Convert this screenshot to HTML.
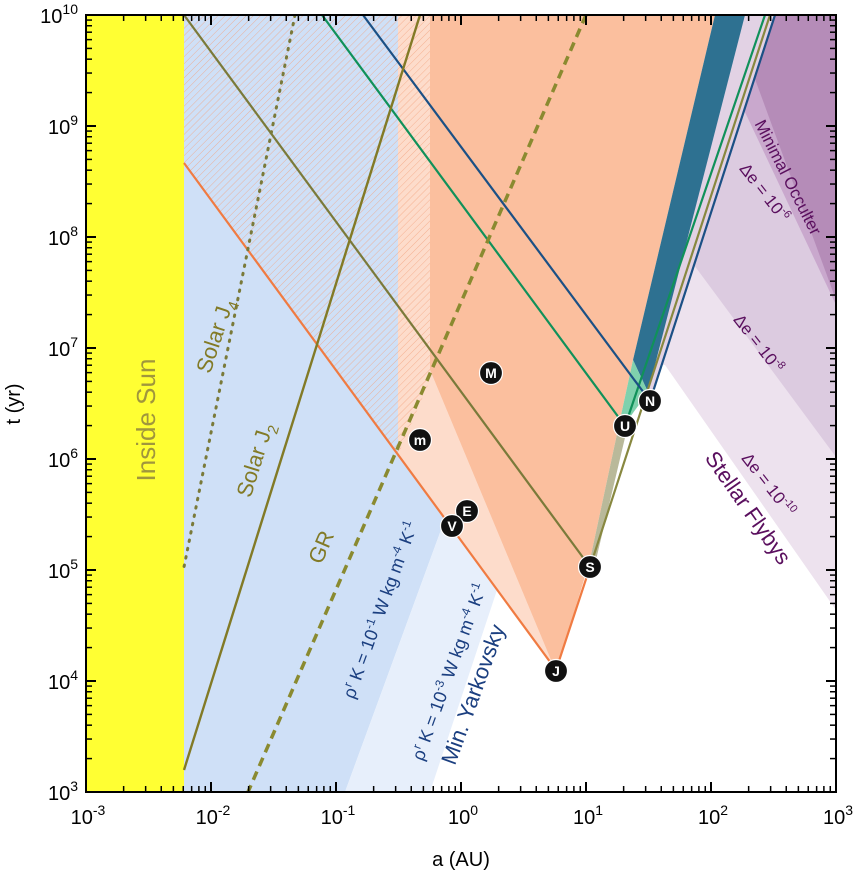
<!DOCTYPE html>
<html><head><meta charset="utf-8"><style>
body{margin:0;background:#fff}
svg{display:block;font-family:"Liberation Sans",sans-serif}
</style></head><body>
<svg id="s" width="856" height="877" viewBox="0 0 856 877" xmlns="http://www.w3.org/2000/svg">
<defs>
<pattern id="h" width="5" height="5" patternUnits="userSpaceOnUse" patternTransform="rotate(45)">
<line x1="0" y1="0" x2="0" y2="5" stroke="#f3a07a" stroke-width="0.9" opacity="0.8"/>
</pattern>
<clipPath id="c"><rect x="86" y="15" width="750" height="777"/></clipPath>
</defs>
<g clip-path="url(#c)">
<polygon points="775,15 836,15 836,610 665,365 661,365" fill="#ede2ee"/>
<polygon points="775,15 836,15 836,457 694,265" fill="#dccbe0"/>
<polygon points="775,15 836,15 836,305 744,110" fill="#c9a8cd"/>
<polygon points="760,15 836,15 836,300 748,60" fill="#b58cb8"/>
<polygon points="743,15 775,15 650,400 646,392" fill="#e2d2e4"/>
<rect x="86" y="15" width="98" height="777" fill="#ffff33"/>
<polygon points="184,15 398,15 398,455 445,519 345,792 184,792" fill="#cfe0f7"/>
<polygon points="445,519 497,590 430,792 345,792" fill="#e7effb"/>
<polygon points="398,15 430,15 430,370 556,672 398,455" fill="#fddccb"/>
<polygon points="184,15 430,15 430,380 398,455 184,163" fill="url(#h)"/>
<polygon points="430,15 715,15 633,360 620,420 590,560 556,672 430,370" fill="#fbbf9e"/>
<polygon points="715,15 745,15 648,392 633,360" fill="#2e7191"/>
<polygon points="633,360 648,392 628,420 620,420" fill="#7fd1ad"/>
<polygon points="620,420 628,425 596,560 590,560" fill="#b9b99a"/>
<line x1="184" y1="163" x2="556" y2="670" stroke="#f07b42" stroke-width="2.2"/>
<line x1="556" y1="670" x2="590" y2="567" stroke="#f07b42" stroke-width="2.2"/>
<line x1="184" y1="15" x2="590" y2="567" stroke="#7a7a3a" stroke-width="2.2"/>
<line x1="590" y1="567" x2="770" y2="15" stroke="#888840" stroke-width="2.2"/>
<line x1="322" y1="15" x2="625" y2="426" stroke="#10915a" stroke-width="2.2"/>
<line x1="625" y1="426" x2="765" y2="15" stroke="#10915a" stroke-width="2.2"/>
<line x1="363" y1="15" x2="650" y2="401" stroke="#1b5085" stroke-width="2.2"/>
<line x1="650" y1="401" x2="775" y2="15" stroke="#1b5085" stroke-width="2.2"/>
<line x1="184" y1="770" x2="420" y2="15" stroke="#827a26" stroke-width="2.4"/>
<line x1="295" y1="15" x2="184" y2="567" stroke="#7a7a3a" stroke-width="3" stroke-dasharray="1.5,7" stroke-linecap="round"/>
<line x1="586" y1="15" x2="248" y2="792" stroke="#8a8a30" stroke-width="3.5" stroke-dasharray="9,6"/>
</g>
<text transform="translate(155,420) rotate(-90)" text-anchor="middle" font-size="26" fill="#a0963c">Inside Sun</text>
<text transform="translate(222,338) rotate(-72)" text-anchor="middle" font-size="22" fill="#827a26">Solar J<tspan font-size="15" dy="6">4</tspan></text>
<text transform="translate(262,462) rotate(-72.6)" text-anchor="middle" font-size="22" fill="#827a26">Solar J<tspan font-size="15" dy="6">2</tspan></text>
<text transform="translate(328,550) rotate(-67)" text-anchor="middle" font-size="22" fill="#827a26">GR</text>
<text transform="translate(386,612) rotate(-70)" text-anchor="middle" font-size="18" fill="#1b3f80">ρ<tspan font-size="12" dy="-7">r</tspan><tspan dy="7"> K = 10</tspan><tspan font-size="12" dy="-7">-1</tspan><tspan dy="7"> W kg m</tspan><tspan font-size="12" dy="-7">-4</tspan><tspan dy="7"> K</tspan><tspan font-size="12" dy="-7">-1</tspan></text>
<text transform="translate(455,674) rotate(-70)" text-anchor="middle" font-size="18" fill="#1b3f80">ρ<tspan font-size="12" dy="-7">r</tspan><tspan dy="7"> K = 10</tspan><tspan font-size="12" dy="-7">-3</tspan><tspan dy="7"> W kg m</tspan><tspan font-size="12" dy="-7">-4</tspan><tspan dy="7"> K</tspan><tspan font-size="12" dy="-7">-1</tspan></text>
<text transform="translate(480,697) rotate(-70)" text-anchor="middle" font-size="22" fill="#1b3f80">Min. Yarkovsky</text>
<text transform="translate(783,180) rotate(63)" text-anchor="middle" font-size="17" fill="#5a0f5e">Minimal Occulter</text>
<text transform="translate(760,196) rotate(52)" text-anchor="middle" font-size="17" fill="#5a0f5e">Δe = 10<tspan font-size="11" dy="-7">-6</tspan></text>
<text transform="translate(754,347) rotate(52)" text-anchor="middle" font-size="17" fill="#5a0f5e">Δe = 10<tspan font-size="11" dy="-7">-8</tspan></text>
<text transform="translate(764,488) rotate(52)" text-anchor="middle" font-size="17" fill="#5a0f5e">Δe = 10<tspan font-size="11" dy="-7">-10</tspan></text>
<text transform="translate(742,512) rotate(55)" text-anchor="middle" font-size="22" fill="#5a0f5e">Stellar Flybys</text>
<g id="pl" font-size="14" font-weight="bold" fill="#fff" text-anchor="middle"></g>
<rect x="86" y="15" width="750" height="777" fill="none" stroke="#000" stroke-width="2"/>
<g id="ax"></g>
<text x="461" y="866" text-anchor="middle" font-size="20">a (AU)</text>
<text transform="translate(20,404) rotate(-90)" text-anchor="middle" font-size="20">t (yr)</text>
</svg>
<script>
var ns="http://www.w3.org/2000/svg";
function el(p,t,a,txt){var e=document.createElementNS(ns,t);for(var k in a)e.setAttribute(k,a[k]);if(txt!==undefined)e.textContent=txt;p.appendChild(e);return e;}
var pl=document.getElementById("pl");
[["M",491,373],["m",420,440],["E",467,511],["V",452,526],["J",556,671],["S",590,567],["U",625,426],["N",650,401]].forEach(function(p){
 el(pl,"circle",{cx:p[1],cy:p[2],r:11.5,fill:"#111",stroke:"#fff","stroke-width":1.2});
 el(pl,"text",{x:p[1],y:p[2]+5},p[0]);
});
var ax=document.getElementById("ax");
function lbl(x,y,e,anchor){var t=el(ax,"text",{x:x,y:y,"font-size":20,"text-anchor":anchor});
 var a=document.createElementNS(ns,"tspan");a.textContent="10";t.appendChild(a);
 var b=document.createElementNS(ns,"tspan");b.setAttribute("font-size","14");b.setAttribute("dy","-9");b.textContent=e;t.appendChild(b);}
for(var d=0;d<=6;d++){var x=86+125*d;
 el(ax,"line",{x1:x,y1:792,x2:x,y2:782,stroke:"#000","stroke-width":2});
 el(ax,"line",{x1:x,y1:15,x2:x,y2:25,stroke:"#000","stroke-width":2});
 lbl(x+2,824,String(d-3),"middle");
 if(d<6)for(var m=2;m<10;m++){var xx=x+125*Math.log10(m);
  el(ax,"line",{x1:xx,y1:792,x2:xx,y2:786,stroke:"#000","stroke-width":1.5});
  el(ax,"line",{x1:xx,y1:15,x2:xx,y2:21,stroke:"#000","stroke-width":1.5});}
}
for(var d=0;d<=7;d++){var y=792-111*d;
 el(ax,"line",{x1:86,y1:y,x2:96,y2:y,stroke:"#000","stroke-width":2});
 el(ax,"line",{x1:836,y1:y,x2:826,y2:y,stroke:"#000","stroke-width":2});
 lbl(78,y+8,String(d+3),"end");
 if(d<7)for(var m=2;m<10;m++){var yy=y-111*Math.log10(m);
  el(ax,"line",{x1:86,y1:yy,x2:92,y2:yy,stroke:"#000","stroke-width":1.5});
  el(ax,"line",{x1:836,y1:yy,x2:830,y2:yy,stroke:"#000","stroke-width":1.5});}
}
</script>
</body></html>
